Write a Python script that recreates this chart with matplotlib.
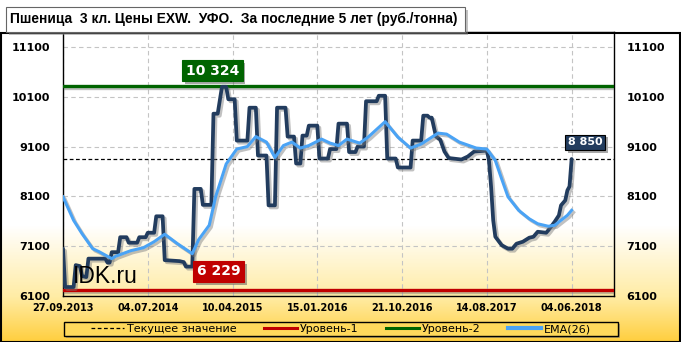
import numpy as np
import matplotlib
matplotlib.use("Agg")
import matplotlib.pyplot as plt
import matplotlib.patheffects as pe
from matplotlib.patches import Rectangle
from matplotlib.lines import Line2D

# --- DATA ---
title = "Пшеница  3 кл. Цены EXW.  УФО.  За последние 5 лет (руб./тонна)"
tick_pos = [0, 40, 80, 120, 160, 200, 240]
tick_labels = ["27.09.2013", "04.07.2014", "10.04.2015", "15.01.2016",
               "21.10.2016", "14.08.2017", "04.06.2018"]
y_ticks = [6100, 7100, 8100, 9100, 10100, 11100]

# weekly price, only the points where the line turns
price_idx = [0, 1, 5, 6, 8, 9, 11, 12, 20, 21, 22, 23, 26, 27, 30, 31, 35, 36, 39,
             40, 43, 44, 47, 48, 55, 57, 58, 61, 62, 65, 66, 70, 71, 73, 75, 77,
             78, 81, 82, 87, 88, 91, 92, 96, 97, 100, 101, 105, 106, 109, 110,
             112, 113, 115, 116, 120, 121, 125, 126, 129, 130, 134, 135, 138,
             139, 142, 143, 148, 149, 152, 153, 157, 158, 164, 165, 169, 170,
             172, 173, 174, 176, 178, 180, 182, 186, 188, 191, 194, 200, 201,
             202, 203, 204, 207, 210, 212, 214, 217, 220, 222, 224, 228, 229,
             232, 234, 235, 237, 238, 239, 240]
price_val = [7050, 6280, 6280, 6720, 6700, 6500, 6480, 6850, 6850, 6770, 6770,
             6980, 6980, 7280, 7280, 7170, 7170, 7280, 7280, 7370, 7370, 7700,
             7700, 6820, 6800, 6780, 6690, 6690, 8250, 8250, 7930, 7930, 9760,
             9760, 10300, 10300, 10050, 10050, 9220, 9220, 9880, 9880, 8920,
             8920, 7920, 7920, 9880, 9880, 9300, 9300, 8760, 8760, 9320, 9320,
             9520, 9520, 8860, 8860, 9050, 9050, 9560, 9560, 8990, 8990, 9100,
             9100, 10010, 10010, 10120, 10120, 8860, 8860, 8680, 8680, 9220,
             9220, 9720, 9720, 9680, 9680, 9300, 9240, 9000, 8870, 8850, 8840,
             8900, 9000, 9020, 8820, 8290, 7620, 7290, 7120, 7050, 7050, 7150,
             7190, 7270, 7290, 7390, 7370, 7420, 7590, 7720, 7920, 8020, 8220,
             8300, 8850]

ema_idx = [0, 5, 9, 14, 17, 23, 25, 32, 38, 43, 48, 54, 61, 64, 69, 72, 77, 82,
           87, 91, 96, 100, 104, 108, 112, 116, 122, 126, 130, 134, 140, 144,
           152, 158, 164, 169, 177, 181, 187, 195, 200, 204, 207, 210, 215,
           220, 224, 229, 232, 235, 238, 240]
ema_val = [8090, 7620, 7350, 7050, 6990, 6850, 6900, 7010, 7070, 7190, 7340,
           7150, 6950, 7230, 7520, 8090, 8750, 9050, 9100, 9300, 9190, 8880,
           9120, 9190, 9070, 9120, 9250, 9170, 9120, 9250, 9170, 9290, 9600,
           9290, 9070, 9150, 9370, 9350, 9190, 9070, 9050, 8820, 8450, 8090,
           7820, 7650, 7550, 7500, 7520, 7620, 7720, 7820]

level_1 = 6229
level_2 = 10324
current = 8850

legend_labels = ["Текущее значение", "Уровень-1", "Уровень-2", "EMA(26)"]

# --- COLORS ---
navy = "#223C5E"
ema_blue = "#4AA3F5"
red = "#C00000"
green = "#006400"

W, H = 681, 342
fig = plt.figure(figsize=(W / 100, H / 100), dpi=100)

# background: white on top, yellow towards the bottom
rows = np.arange(H)
stops_y = [0, 225, 296, 342]
r = np.interp(rows, stops_y, [255, 255, 255, 255])
g = np.interp(rows, stops_y, [255, 255, 236, 206])
b = np.interp(rows, stops_y, [255, 255, 165, 60])
grad = np.stack([r, g, b], axis=1)[:, None, :] / 255.0
bg = fig.add_axes([0, 0, 1, 1], zorder=-5)
bg.imshow(np.repeat(grad, 2, axis=1), aspect="auto", extent=[0, 1, 0, 1])
bg.axis("off")
# title strip is plain white
fig.patches.append(Rectangle((0, 1 - 32 / H), 1, 32 / H, transform=fig.transFigure,
                             facecolor="white", edgecolor="none", zorder=-4))

ax = fig.add_axes([63 / W, 1 - 296 / H, 551 / W, 264 / H], zorder=1)
ax.set_facecolor("none")

shadow = [pe.SimpleLineShadow(offset=(1.5, -1.5), shadow_color="#777777", alpha=0.45),
          pe.Normal()]

ax.axhline(level_2, color=green, lw=2.4, path_effects=shadow, zorder=3)
ax.axhline(level_1, color=red, lw=2.4, path_effects=shadow, zorder=3)
ax.axhline(current, color="black", lw=0.9, dashes=(3, 2), zorder=3)

ax.plot(price_idx, price_val, color=navy, lw=2.7, solid_joinstyle="round",
        solid_capstyle="round", path_effects=shadow, zorder=4)
ax.plot(ema_idx, ema_val, color=ema_blue, lw=2.2, solid_joinstyle="round",
        path_effects=shadow, zorder=5)

ax.set_xlim(0, 260)
ax.set_ylim(6100, 11400)
ax.set_xticks(tick_pos)
ax.set_xticklabels(tick_labels, fontsize=7, fontweight="bold")
ax.set_yticks(y_ticks)
ax.set_yticklabels([str(v) for v in y_ticks], fontsize=8, fontweight="bold")
ax.tick_params(axis="y", length=0, pad=9, labelright=True)
ax.tick_params(axis="x", length=0, pad=5)
ax.grid(True, color="#C4C4C4", lw=0.8, dashes=(4, 3))
for s in ax.spines.values():
    s.set_color("black")
    s.set_linewidth(1.0)

def value_box(x, y, text, color, size):
    t = ax.text(x, y, text, color="white", fontsize=size, fontweight="bold",
                ha="center", va="center", zorder=7,
                bbox=dict(boxstyle="square,pad=0.25", facecolor=color,
                          edgecolor="black" if color == navy else color, lw=0.8))
    t.get_bbox_patch().set_path_effects(
        [pe.SimplePatchShadow(offset=(2, -2), shadow_rgbFace="#555555", alpha=0.5),
         pe.Normal()])

value_box(70.5, 10620, "10 324", green, 10)
value_box(73.5, 6595, "6 229", red, 10)
value_box(246.5, 9185, "8 850", navy, 8)

ax.text(0.018, 0.05, "IDK.ru", transform=ax.transAxes, fontsize=16.5,
        family="Liberation Sans", color="black", zorder=8)

# title box with shadow
fig.patches.append(Rectangle((9 / W, 1 - 35 / H), 459 / W, 25 / H, transform=fig.transFigure,
                             facecolor="#888888", edgecolor="none", alpha=0.5, zorder=1))
fig.patches.append(Rectangle((6 / W, 1 - 32 / H), 459 / W, 25 / H, transform=fig.transFigure,
                             facecolor="white", edgecolor="#666666", lw=0.8, zorder=2))
fig.text(10 / W, 1 - 19.5 / H, title, fontsize=9.9, fontweight="bold", va="center",
         ha="left", family="Liberation Sans", zorder=3)

# outer frame
fig.patches.append(Rectangle((0.5 / W, 0.5 / H), 679.5 / W, 309 / H, transform=fig.transFigure,
                             facecolor="none", edgecolor="black", lw=1.5, zorder=0))

# legend box
fig.patches.append(Rectangle((66 / W, 1 - 338 / H), 554 / W, 14 / H, transform=fig.transFigure,
                             facecolor="#777777", edgecolor="none", alpha=0.5, zorder=1))
fig.patches.append(Rectangle((64 / W, 1 - 336 / H), 554 / W, 14 / H, transform=fig.transFigure,
                             facecolor="#FFD95C", edgecolor="black", lw=1.0, zorder=2))
handles = [Line2D([], [], color="black", lw=0.9, dashes=(3, 2)),
           Line2D([], [], color=red, lw=2.2),
           Line2D([], [], color=green, lw=2.2),
           Line2D([], [], color=ema_blue, lw=3.0)]
leg = fig.legend(handles, legend_labels, loc="center", bbox_to_anchor=(341 / W, 1 - 329 / H),
                 ncol=4, frameon=False, fontsize=8, handlelength=3.0, handletextpad=0.3,
                 columnspacing=2.4, borderpad=0.0)
leg.set_zorder(3)

fig.savefig("out.png", dpi=100)
